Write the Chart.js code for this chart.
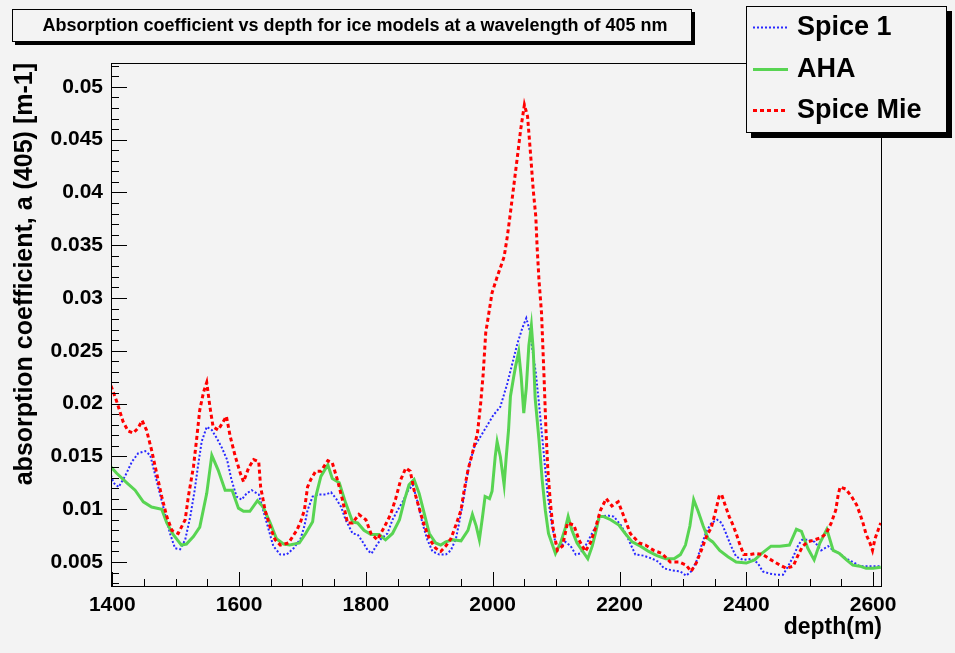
<!DOCTYPE html>
<html>
<head>
<meta charset="utf-8">
<script src="https://cdn.jsdelivr.net/npm/chart.js@4.4.1/dist/chart.umd.min.js"></script>
<style>
  html, body { margin: 0; padding: 0; background: #f3f3f3; }
  canvas { display: block; }
</style>
</head>
<body>
<canvas id="absorption" width="955" height="653"></canvas>
<script>
const chartTitle = 'Absorption coefficient vs depth for ice models at a wavelength of 405 nm';
const xTitle = 'depth(m)';
const yTitle = 'absorption coefficient, a (405) [m-1]';
const xTicks = [1400, 1600, 1800, 2000, 2200, 2400, 2600];
const yTicks = [0.005, 0.01, 0.015, 0.02, 0.025, 0.03, 0.035, 0.04, 0.045, 0.05];

// Spice 1
const spice1Depth = [1398, 1402, 1410, 1420, 1431, 1441, 1452, 1460, 1467, 1475, 1483, 1491, 1499, 1507, 1515, 1523, 1530, 1535, 1541, 1549,
  1557, 1565, 1573, 1581, 1588, 1596, 1604, 1612, 1620, 1631, 1638, 1646, 1654, 1665, 1675, 1686, 1697, 1703, 1708, 1716,
  1726, 1737, 1745, 1753, 1761, 1768, 1779, 1787, 1795, 1803, 1809, 1816, 1824, 1834, 1842, 1850, 1858, 1866, 1874, 1882,
  1889, 1897, 1905, 1916, 1926, 1934, 1942, 1947, 1953, 1958, 1963, 1971, 1981, 1992, 2001, 2012, 2017, 2023, 2031, 2039,
  2047, 2053, 2058, 2062, 2068, 2073, 2078, 2083, 2087, 2094, 2099, 2107, 2115, 2123, 2131, 2138, 2146, 2154, 2162, 2170,
  2181, 2191, 2202, 2212, 2225, 2238, 2252, 2262, 2270, 2283, 2296, 2305, 2313, 2321, 2329, 2337, 2345, 2354, 2361, 2368,
  2376, 2384, 2395, 2408, 2418, 2426, 2437, 2447, 2458, 2466, 2474, 2482, 2488, 2497, 2508, 2518, 2529, 2537, 2547, 2558,
  2568, 2579, 2589, 2600, 2612];
const spice1Abs = [0.0132, 0.0125, 0.0121, 0.0131, 0.0145, 0.0153, 0.0155, 0.0151, 0.0134, 0.0115, 0.0096, 0.0077, 0.0063, 0.0062, 0.0071, 0.0093, 0.0118, 0.0140, 0.0164, 0.0178,
  0.0175, 0.0167, 0.0158, 0.0147, 0.0128, 0.0112, 0.0109, 0.0115, 0.0118, 0.0114, 0.0099, 0.0082, 0.0065, 0.0057, 0.0057, 0.0063, 0.0072, 0.0084, 0.0099, 0.0112,
  0.0114, 0.0114, 0.0116, 0.0110, 0.0102, 0.0090, 0.0077, 0.0076, 0.0069, 0.0061, 0.0058, 0.0065, 0.0072, 0.0077, 0.0090, 0.0099, 0.0107, 0.0117, 0.0123, 0.0106,
  0.0087, 0.0071, 0.0060, 0.0057, 0.0057, 0.0061, 0.0072, 0.0087, 0.0106, 0.0125, 0.0142, 0.0159, 0.0169, 0.0180, 0.0189, 0.0197, 0.0207, 0.0219, 0.0238, 0.0257,
  0.0272, 0.0281, 0.0270, 0.0254, 0.0229, 0.0200, 0.0169, 0.0137, 0.0112, 0.0083, 0.0068, 0.0065, 0.0069, 0.0065, 0.0057, 0.0058, 0.0065, 0.0074, 0.0083, 0.0093,
  0.0094, 0.0093, 0.0085, 0.0074, 0.0057, 0.0056, 0.0053, 0.0050, 0.0044, 0.0042, 0.0041, 0.0037, 0.0041, 0.0050, 0.0065, 0.0079, 0.0087, 0.0090, 0.0087, 0.0077,
  0.0065, 0.0055, 0.0052, 0.0053, 0.0049, 0.0041, 0.0039, 0.0038, 0.0038, 0.0046, 0.0055, 0.0066, 0.0071, 0.0071, 0.0069, 0.0061, 0.0065, 0.0061, 0.0058, 0.0053,
  0.0050, 0.0046, 0.0046, 0.0046, 0.0046];

// AHA
const ahaDepth = [1398, 1407, 1423, 1436, 1449, 1462, 1478, 1486, 1496, 1509, 1517, 1528, 1538, 1549, 1557, 1567, 1578, 1589, 1599, 1607,
  1617, 1629, 1638, 1649, 1659, 1670, 1680, 1695, 1705, 1716, 1721, 1729, 1740, 1747, 1758, 1768, 1779, 1787, 1797, 1808,
  1821, 1831, 1842, 1853, 1861, 1868, 1876, 1884, 1892, 1900, 1910, 1918, 1926, 1937, 1950, 1961, 1968, 1974, 1979, 1984,
  1988, 1995, 1999, 2004, 2007, 2012, 2018, 2021, 2025, 2028, 2033, 2036, 2041, 2045, 2049, 2053, 2057, 2061, 2064, 2067,
  2073, 2078, 2083, 2088, 2095, 2099, 2107, 2115, 2119, 2125, 2133, 2141, 2150, 2157, 2162, 2168, 2175, 2186, 2199, 2209,
  2220, 2233, 2246, 2259, 2273, 2286, 2296, 2304, 2311, 2317, 2324, 2332, 2340, 2347, 2358, 2371, 2384, 2400, 2413, 2424,
  2439, 2453, 2468, 2479, 2487, 2497, 2507, 2516, 2527, 2537, 2547, 2558, 2568, 2579, 2589, 2600, 2612];
const ahaAbs = [0.0140, 0.0134, 0.0125, 0.0118, 0.0107, 0.0102, 0.0100, 0.0087, 0.0076, 0.0066, 0.0067, 0.0074, 0.0083, 0.0115, 0.0151, 0.0137, 0.0118, 0.0118, 0.0101, 0.0098,
  0.0098, 0.0108, 0.0102, 0.0087, 0.0072, 0.0067, 0.0066, 0.0068, 0.0077, 0.0088, 0.0112, 0.0131, 0.0142, 0.0129, 0.0125, 0.0106, 0.0088, 0.0087, 0.0080, 0.0076,
  0.0076, 0.0071, 0.0077, 0.0090, 0.0109, 0.0123, 0.0128, 0.0115, 0.0096, 0.0077, 0.0068, 0.0066, 0.0069, 0.0071, 0.0070, 0.0080, 0.0095, 0.0084, 0.0071, 0.0093,
  0.0112, 0.0110, 0.0117, 0.0150, 0.0164, 0.0150, 0.0123, 0.0147, 0.0175, 0.0207, 0.0225, 0.0235, 0.0249, 0.0225, 0.0191, 0.0215, 0.0255, 0.0274, 0.0250, 0.0205,
  0.0166, 0.0128, 0.0099, 0.0077, 0.0065, 0.0058, 0.0068, 0.0083, 0.0093, 0.0080, 0.0068, 0.0061, 0.0053, 0.0065, 0.0077, 0.0093, 0.0093, 0.0090, 0.0085, 0.0077,
  0.0069, 0.0065, 0.0060, 0.0056, 0.0053, 0.0053, 0.0057, 0.0066, 0.0084, 0.0109, 0.0098, 0.0084, 0.0072, 0.0069, 0.0061, 0.0055, 0.0050, 0.0049, 0.0052, 0.0058,
  0.0065, 0.0065, 0.0066, 0.0081, 0.0079, 0.0063, 0.0052, 0.0068, 0.0081, 0.0061, 0.0058, 0.0052, 0.0047, 0.0046, 0.0044, 0.0044, 0.0045];

// Spice Mie
const mieDepth = [1398, 1407, 1417, 1425, 1433, 1441, 1447, 1454, 1462, 1470, 1478, 1486, 1494, 1504, 1515, 1520, 1528, 1533, 1538, 1544,
  1549, 1554, 1559, 1567, 1573, 1580, 1586, 1594, 1602, 1607, 1615, 1623, 1631, 1634, 1641, 1649, 1657, 1665, 1678, 1691,
  1697, 1703, 1708, 1713, 1721, 1729, 1740, 1747, 1755, 1763, 1771, 1779, 1789, 1800, 1808, 1818, 1829, 1839, 1847, 1855,
  1863, 1870, 1876, 1884, 1892, 1900, 1910, 1918, 1926, 1934, 1942, 1950, 1955, 1961, 1968, 1976, 1981, 1985, 1989, 1994,
  1999, 2007, 2018, 2023, 2028, 2033, 2039, 2044, 2050, 2055, 2060, 2064, 2068, 2070, 2073, 2077, 2081, 2084, 2087, 2091,
  2095, 2102, 2110, 2118, 2128, 2136, 2146, 2154, 2162, 2170, 2179, 2188, 2198, 2207, 2217, 2231, 2241, 2254, 2267, 2280,
  2294, 2305, 2313, 2321, 2329, 2337, 2345, 2352, 2357, 2361, 2366, 2373, 2379, 2384, 2389, 2396, 2405, 2416, 2426, 2439,
  2453, 2463, 2474, 2482, 2489, 2497, 2508, 2518, 2526, 2534, 2541, 2545, 2548, 2557, 2566, 2574, 2579, 2584, 2589, 2595,
  2599, 2603, 2612];
const mieAbs = [0.0217, 0.0202, 0.0183, 0.0174, 0.0172, 0.0177, 0.0184, 0.0175, 0.0156, 0.0134, 0.0112, 0.0093, 0.0080, 0.0077, 0.0090, 0.0112, 0.0140, 0.0166, 0.0194, 0.0211,
  0.0220, 0.0197, 0.0178, 0.0175, 0.0181, 0.0188, 0.0169, 0.0150, 0.0134, 0.0126, 0.0139, 0.0147, 0.0145, 0.0121, 0.0099, 0.0083, 0.0071, 0.0066, 0.0068, 0.0080,
  0.0088, 0.0099, 0.0121, 0.0128, 0.0136, 0.0136, 0.0146, 0.0144, 0.0128, 0.0109, 0.0087, 0.0087, 0.0095, 0.0090, 0.0077, 0.0071, 0.0083, 0.0095, 0.0110, 0.0128,
  0.0139, 0.0136, 0.0118, 0.0101, 0.0085, 0.0072, 0.0063, 0.0060, 0.0065, 0.0072, 0.0085, 0.0099, 0.0118, 0.0137, 0.0153, 0.0172, 0.0200, 0.0228, 0.0267, 0.0286,
  0.0305, 0.0320, 0.0339, 0.0358, 0.0381, 0.0405, 0.0434, 0.0459, 0.0483, 0.0472, 0.0434, 0.0402, 0.0377, 0.0349, 0.0317, 0.0286, 0.0225, 0.0175, 0.0137, 0.0106,
  0.0083, 0.0061, 0.0065, 0.0087, 0.0085, 0.0071, 0.0060, 0.0068, 0.0082, 0.0099, 0.0110, 0.0103, 0.0107, 0.0093, 0.0077, 0.0068, 0.0066, 0.0061, 0.0058, 0.0050,
  0.0050, 0.0047, 0.0041, 0.0049, 0.0061, 0.0074, 0.0083, 0.0099, 0.0112, 0.0114, 0.0105, 0.0093, 0.0085, 0.0077, 0.0068, 0.0057, 0.0057, 0.0058, 0.0057, 0.0052,
  0.0047, 0.0044, 0.0046, 0.0057, 0.0065, 0.0069, 0.0071, 0.0073, 0.0077, 0.0087, 0.0099, 0.0114, 0.0121, 0.0119, 0.0112, 0.0104, 0.0096, 0.0087, 0.0076, 0.0068,
  0.0061, 0.0072, 0.0087];

const FONT = "'Liberation Sans', Arial, Helvetica, sans-serif";
const BG = '#f3f3f3';

const toPoints = (xs, ys) => xs.map((x, i) => ({ x: x, y: ys[i] }));

// ROOT-like canvas: grey background, full frame, ticks pointing inward, title and legend boxes
const rootLook = {
  id: 'rootLook',
  beforeDraw(chart) {
    const { ctx, width, height } = chart;
    ctx.save();
    ctx.fillStyle = BG;
    ctx.fillRect(0, 0, width, height);
    ctx.restore();
  },
  afterDatasetsDraw(chart) {
    const { ctx, chartArea: a, scales: { x, y } } = chart;
    ctx.save();
    ctx.strokeStyle = '#000';
    ctx.lineWidth = 1;
    ctx.strokeRect(a.left + 0.5, a.top + 0.5, a.right - a.left - 1, a.bottom - a.top - 1);
    ctx.beginPath();
    for (let d = xTicks[0]; d <= xTicks[xTicks.length - 1]; d += 50) {
      const px = Math.round(x.getPixelForValue(d)) + 0.5;
      const len = d % 200 === 0 ? 15 : 8;
      ctx.moveTo(px, a.bottom);
      ctx.lineTo(px, a.bottom - len);
    }
    for (let k = 3; k <= 52; k++) {
      const py = Math.round(y.getPixelForValue(k / 1000)) + 0.5;
      if (py < a.top || py > a.bottom) continue;
      const len = k % 5 === 0 ? 16 : 8;
      ctx.moveTo(a.left, py);
      ctx.lineTo(a.left + len, py);
    }
    ctx.stroke();
    ctx.restore();
  },
  afterDraw(chart) {
    const { ctx } = chart;
    ctx.save();
    // title box
    ctx.fillStyle = '#000';
    ctx.fillRect(15, 12, 680, 33);
    ctx.fillStyle = BG;
    ctx.fillRect(12, 9, 680, 33);
    ctx.strokeStyle = '#000';
    ctx.lineWidth = 1;
    ctx.strokeRect(12.5, 9.5, 679, 32);
    ctx.fillStyle = '#000';
    ctx.font = 'bold 18px ' + FONT;
    ctx.textAlign = 'center';
    ctx.textBaseline = 'middle';
    ctx.fillText(chartTitle, 355, 26);

    // legend box
    ctx.fillStyle = '#000';
    ctx.fillRect(751, 11, 201, 127);
    ctx.fillStyle = BG;
    ctx.fillRect(746, 6, 201, 127);
    ctx.strokeRect(746.5, 6.5, 200, 126);
    ctx.font = 'bold 27px ' + FONT;
    ctx.textAlign = 'left';
    chart.data.datasets.forEach((ds, i) => {
      const cy = 27 + i * 41.5;
      ctx.save();
      ctx.strokeStyle = ds.borderColor;
      ctx.lineWidth = ds.borderWidth;
      ctx.setLineDash(ds.borderDash || []);
      ctx.beginPath();
      ctx.moveTo(753, Math.round(cy) + 0.5);
      ctx.lineTo(788, Math.round(cy) + 0.5);
      ctx.stroke();
      ctx.restore();
      ctx.fillStyle = '#000';
      ctx.fillText(ds.label, 797, cy + 1);
    });
    ctx.restore();
  }
};

new Chart(document.getElementById('absorption'), {
  type: 'line',
  data: {
    datasets: [
      {
        label: 'Spice 1',
        data: toPoints(spice1Depth, spice1Abs),
        borderColor: 'rgb(40, 40, 255)',
        borderWidth: 2,
        borderDash: [2, 2],
        order: 3
      },
      {
        label: 'AHA',
        data: toPoints(ahaDepth, ahaAbs),
        borderColor: 'rgb(88, 212, 82)',
        borderWidth: 3,
        order: 2
      },
      {
        label: 'Spice Mie',
        data: toPoints(mieDepth, mieAbs),
        borderColor: 'rgb(255, 0, 0)',
        borderWidth: 3,
        borderDash: [4, 3],
        order: 1
      }
    ]
  },
  options: {
    responsive: false,
    animation: false,
    layout: { padding: { left: 0, top: 63, right: 73, bottom: 0 } },
    elements: { point: { radius: 0 }, line: { tension: 0 } },
    plugins: { legend: { display: false }, tooltip: { enabled: false } },
    scales: {
      x: {
        type: 'linear',
        min: 1398,
        max: 2614,
        afterFit: s => { s.height = 66; },
        afterBuildTicks: s => { s.ticks = xTicks.map(v => ({ value: v })); },
        grid: { display: false, drawTicks: false },
        border: { display: false },
        ticks: {
          padding: 6,
          color: '#000',
          font: { family: FONT, size: 21, weight: 'bold' },
          maxRotation: 0,
          callback: v => String(v)
        },
        title: {
          display: true,
          text: xTitle,
          align: 'end',
          color: '#000',
          font: { family: FONT, size: 23, weight: 'bold' },
          padding: { top: 0, bottom: 12 }
        }
      },
      y: {
        min: 0.00263,
        max: 0.05226,
        afterFit: s => { s.width = 111; },
        afterBuildTicks: s => { s.ticks = yTicks.map(v => ({ value: v })); },
        grid: { display: false, drawTicks: false },
        border: { display: false },
        ticks: {
          padding: 8,
          color: '#000',
          font: { family: FONT, size: 21, weight: 'bold' },
          callback: v => String(+v.toFixed(3))
        },
        title: {
          display: true,
          text: yTitle,
          align: 'end',
          color: '#000',
          font: { family: FONT, size: 25, weight: 'bold' },
          padding: { top: 10, bottom: 0 }
        }
      }
    }
  },
  plugins: [rootLook]
});
</script>
</body>
</html>
